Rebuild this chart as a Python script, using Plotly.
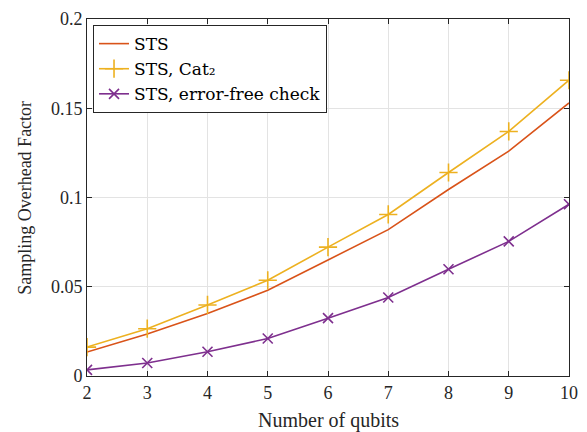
import plotly.graph_objects as go

qubits = [2, 3, 4, 5, 6, 7, 8, 9, 10]
sts = [0.0134, 0.0235, 0.035, 0.048, 0.065, 0.082, 0.1045, 0.126, 0.153]
sts_cat2 = [0.0162, 0.0265, 0.0398, 0.0536, 0.0722, 0.0905, 0.114, 0.137, 0.1657]
sts_errfree = [0.0034, 0.0073, 0.0136, 0.021, 0.0324, 0.044, 0.0598, 0.0754, 0.0962]
y_ticks = [0, 0.05, 0.1, 0.15, 0.2]
y_ticktext = ["0", "0.05", "0.1", "0.15", "0.2"]

FONT = "Liberation Serif, Times New Roman, serif"
LEGEND_FONT = "DejaVu Serif, serif"
AX = "#262626"

fig = go.Figure()
fig.add_trace(go.Scatter(x=qubits, y=sts, mode="lines", name="STS",
                         line=dict(color="#D95319", width=1.6)))
fig.add_trace(go.Scatter(x=qubits, y=sts_cat2, mode="lines+markers", name="STS, Cat\u2082",
                         line=dict(color="#EDB120", width=1.6),
                         marker=dict(symbol="cross-thin", size=13,
                                     line=dict(color="#EDB120", width=1.6))))
fig.add_trace(go.Scatter(x=qubits, y=sts_errfree, mode="lines+markers", name="STS, error-free check",
                         line=dict(color="#7E2F8E", width=1.6),
                         marker=dict(symbol="x-thin", size=10,
                                     line=dict(color="#7E2F8E", width=1.6))))

# page body has an 8px margin, so the figure is sized/offset to compensate
fig.update_layout(
    width=579, height=424,
    margin=dict(l=79, r=18, t=11, b=56),
    paper_bgcolor="white", plot_bgcolor="white",
    font=dict(family=FONT, size=18, color=AX),
    showlegend=True,
    legend=dict(x=0.0125, y=0.983, xanchor="left", yanchor="top",
                bgcolor="white", bordercolor=AX, borderwidth=1,
                font=dict(family=LEGEND_FONT, size=17, color="black"),
                tracegroupgap=0, itemwidth=30),
    annotations=[
        dict(text="Number of qubits", xref="paper", yref="paper", x=0.5, y=-0.125,
             xanchor="center", yanchor="middle", showarrow=False,
             font=dict(family=FONT, size=20, color=AX)),
        dict(text="Sampling Overhead Factor", xref="paper", yref="paper", x=-0.13, y=0.5,
             xanchor="center", yanchor="middle", showarrow=False, textangle=-90,
             font=dict(family=FONT, size=18, color=AX)),
    ],
)
fig.update_xaxes(
    range=[2, 10], tickvals=qubits, ticktext=[str(q) for q in qubits],
    showgrid=True, gridcolor="#E3E3E3", gridwidth=1,
    showline=True, linecolor=AX, linewidth=1, mirror="ticks",
    ticks="inside", ticklen=5, tickcolor=AX, zeroline=False,
    automargin=False,
    tickfont=dict(family=FONT, size=18),
)
fig.update_yaxes(
    range=[0, 0.2], tickvals=y_ticks, ticktext=y_ticktext,
    showgrid=True, gridcolor="#E3E3E3", gridwidth=1,
    showline=True, linecolor=AX, linewidth=1, mirror="ticks",
    ticks="inside", ticklen=5, tickcolor=AX, zeroline=False,
    automargin=False,
    tickfont=dict(family=FONT, size=18),
)

fig.write_html("out.html")
